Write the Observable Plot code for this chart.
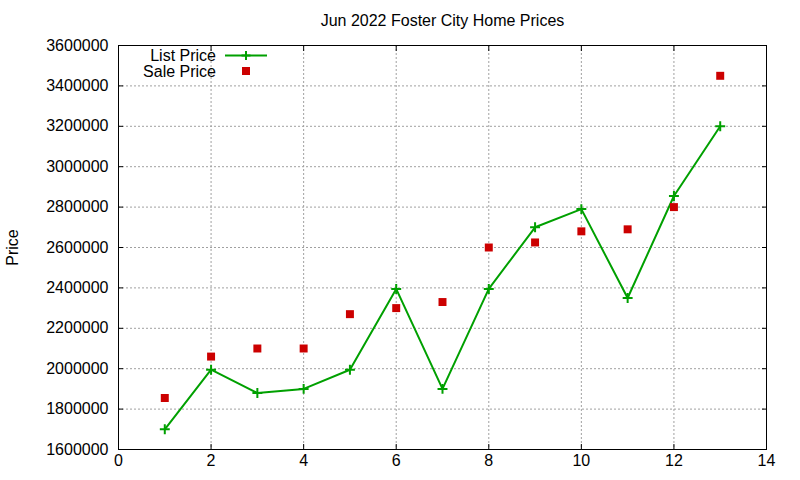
<!DOCTYPE html>
<html><head><meta charset="utf-8">
<script src="https://cdn.jsdelivr.net/npm/d3@7"></script>
<script src="https://cdn.jsdelivr.net/npm/@observablehq/plot@0.6"></script>
<style>
body{margin:0;background:#fff;}
#wrap{position:relative;width:800px;height:480px;font-family:"Liberation Sans",Arial,sans-serif;}
#legend{position:absolute;left:0;top:0;pointer-events:none;}
</style></head><body><div id="wrap"></div>
<script>
const title = "Jun 2022 Foster City Home Prices";
const yLabel = "Price";
const seriesNames = ["List Price", "Sale Price"];
const months = [1, 2, 3, 4, 5, 6, 7, 8, 9, 10, 11, 12, 13];
const listPrice = [1700000, 1995000, 1880000, 1900000, 1995000, 2395000, 1900000, 2395000, 2700000, 2790000, 2350000, 2855000, 3200000];
const salePrice = [1855000, 2060000, 2100000, 2100000, 2270000, 2300000, 2330000, 2600000, 2625000, 2680000, 2690000, 2800000, 3450000];
const xTicks = [0, 2, 4, 6, 8, 10, 12, 14];
const yTicks = [1600000, 1800000, 2000000, 2200000, 2400000, 2600000, 2800000, 3000000, 3200000, 3400000, 3600000];

const green = "#00a000";
const red = "#cc0000";
const listData = months.map((m, i) => ({x: m, y: listPrice[i]}));
const saleData = months.map((m, i) => ({x: m, y: salePrice[i]}));
const fmt = d3.format("d");
const FS = 16;

const chart = Plot.plot({
  width: 800, height: 480,
  marginLeft: 118, marginRight: 34, marginTop: 45, marginBottom: 31,
  style: {fontFamily: "Liberation Sans, Arial, sans-serif", fontSize: FS + "px", background: "white", color: "black"},
  x: {domain: [0, 14], ticks: xTicks},
  y: {domain: [1600000, 3600000], ticks: yTicks},
  marks: [
    Plot.gridX(xTicks, {stroke: "#a0a0a0", strokeOpacity: 1, strokeDasharray: "2,2"}),
    Plot.gridY(yTicks, {stroke: "#a0a0a0", strokeOpacity: 1, strokeDasharray: "2,2"}),
    Plot.axisX(xTicks, {anchor: "bottom", tickSize: 0, tickPadding: 5, fontSize: FS, label: null}),
    Plot.axisY(yTicks, {anchor: "left", tickSize: 0, tickPadding: 10, fontSize: FS, tickFormat: fmt,
      label: yLabel, labelAnchor: "center", labelArrow: "none", labelOffset: 112}),
    Plot.axisX(xTicks, {anchor: "bottom", tickSize: 5, insetBottom: 5, text: null, label: null}),
    Plot.axisX(xTicks, {anchor: "top", tickSize: 5, insetTop: 5, text: null, label: null}),
    Plot.axisY(yTicks, {anchor: "left", tickSize: 5, insetLeft: 5, text: null, label: null}),
    Plot.axisY(yTicks, {anchor: "right", tickSize: 5, insetRight: 5, text: null, label: null}),
    Plot.line(listData, {x: "x", y: "y", stroke: green, strokeWidth: 2}),
    Plot.dot(listData, {x: "x", y: "y", symbol: "plus", r: 3.3, stroke: green, strokeWidth: 2}),
    Plot.dot(saleData, {x: "x", y: "y", symbol: "square", r: 4.5, fill: red, stroke: null}),
    Plot.frame({stroke: "black", strokeWidth: 1}),
    Plot.text([title], {frameAnchor: "top", lineAnchor: "middle", dy: -25, fontSize: FS, fill: "black"})
  ]
});
const wrap = document.getElementById("wrap");
wrap.appendChild(chart);

// legend overlay
const lg = d3.select(wrap).append("svg").attr("id", "legend").attr("width", 800).attr("height", 480)
  .style("font-family", "Liberation Sans, Arial, sans-serif").style("font-size", FS + "px");
const rows = [
  {name: seriesNames[0], y: 55.5, kind: "line"},
  {name: seriesNames[1], y: 71, kind: "point"}
];
rows.forEach(r => {
  lg.append("text").attr("x", 216).attr("y", r.y).attr("dy", "0.35em").attr("text-anchor", "end").attr("fill", "black").text(r.name);
  if (r.kind === "line") {
    lg.append("line").attr("x1", 225).attr("x2", 267).attr("y1", r.y).attr("y2", r.y).attr("stroke", green).attr("stroke-width", 2);
    lg.append("path").attr("d", `M241.5,${r.y}h9M246,${r.y - 4.5}v9`).attr("stroke", green).attr("stroke-width", 2);
  } else {
    lg.append("rect").attr("x", 242).attr("y", r.y - 4).attr("width", 8).attr("height", 8).attr("fill", red);
  }
});
</script></body></html>
